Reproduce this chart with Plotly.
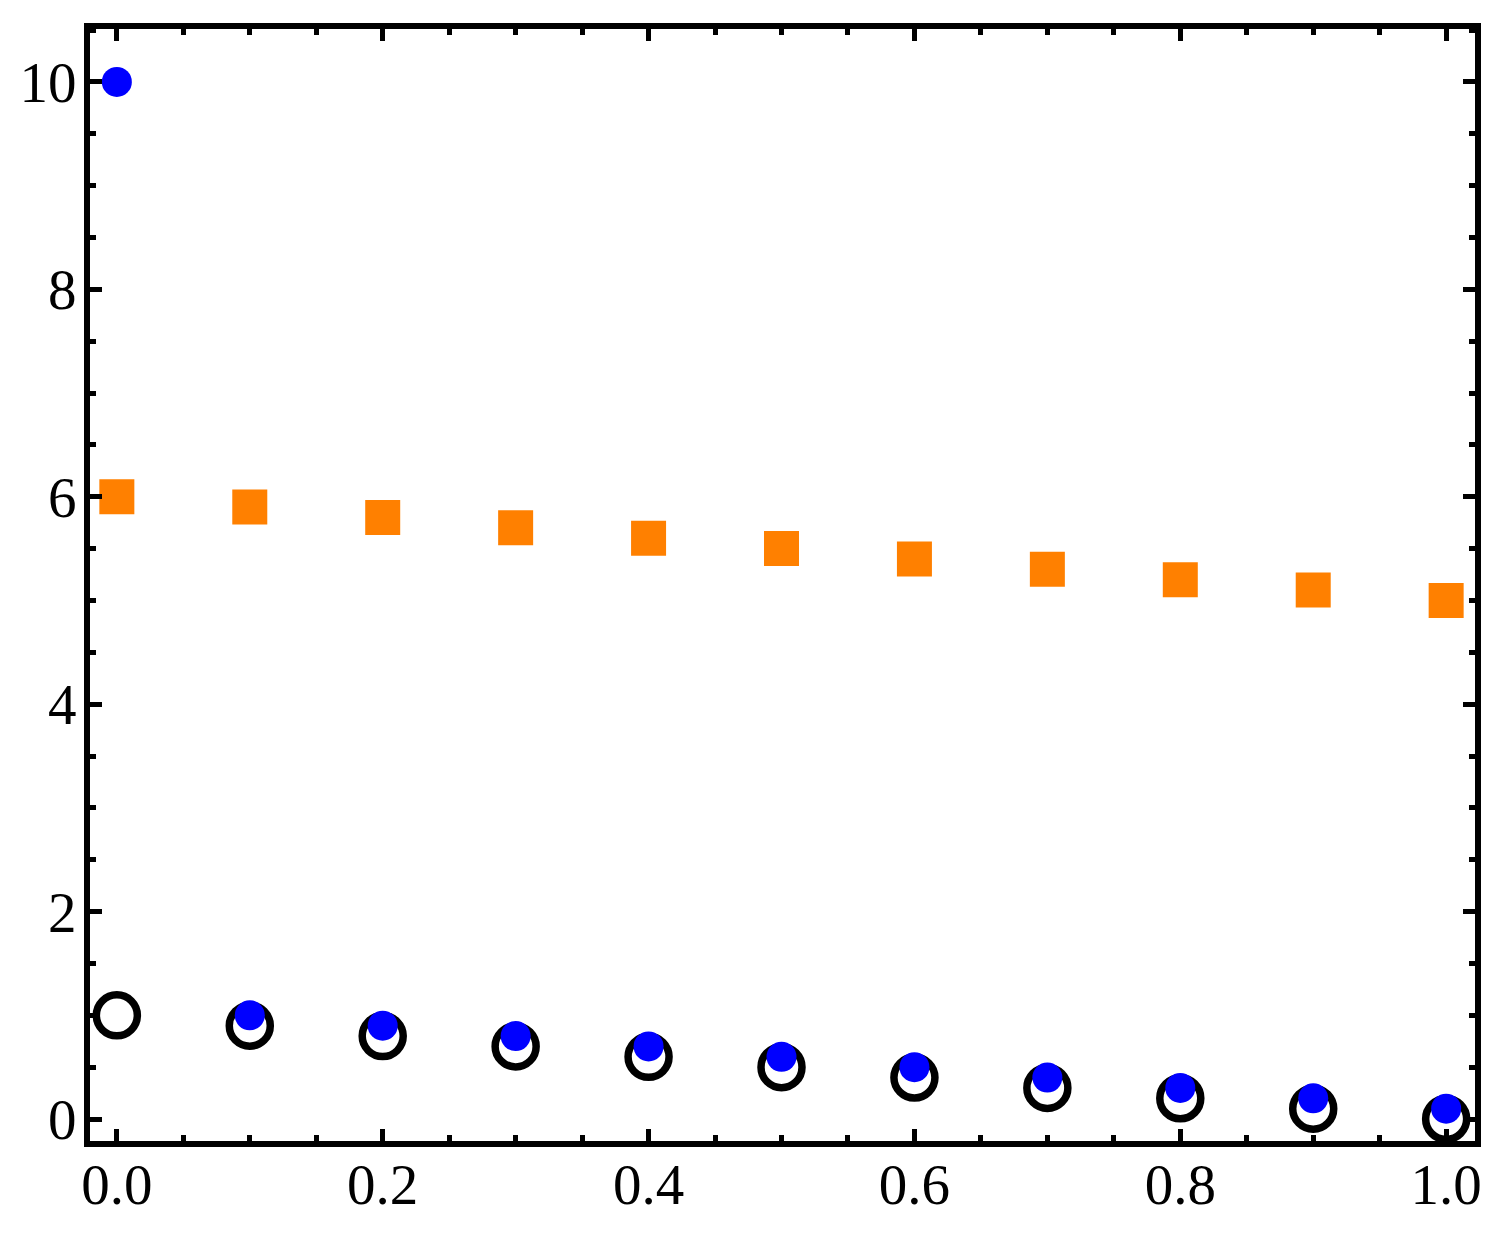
import plotly.graph_objects as go

x_vals = [0.0, 0.1, 0.2, 0.3, 0.4, 0.5, 0.6, 0.7, 0.8, 0.9, 1.0]
blue_vals = [10.0, 1.0, 0.9, 0.8, 0.7, 0.6, 0.5, 0.4, 0.3, 0.2, 0.1]
black_vals = [1.0, 0.9, 0.8, 0.7, 0.6, 0.5, 0.4, 0.3, 0.2, 0.1, 0.0]
orange_vals = [6.0, 5.9, 5.8, 5.7, 5.6, 5.5, 5.4, 5.3, 5.2, 5.1, 5.0]

x_ticks = [0.0, 0.2, 0.4, 0.6, 0.8, 1.0]
x_ticktext = ["0.0", "0.2", "0.4", "0.6", "0.8", "1.0"]
y_ticks = [0, 2, 4, 6, 8, 10]
y_ticktext = ["0", "2", "4", "6", "8", "10"]

fig = go.Figure()
fig.add_trace(go.Scatter(x=x_vals, y=orange_vals, mode="markers",
                         marker=dict(symbol="square", size=35, color="#FF8000"),
                         showlegend=False))
fig.add_trace(go.Scatter(x=x_vals, y=black_vals, mode="markers",
                         marker=dict(symbol="circle-open", size=41, color="black",
                                     line=dict(width=7.5, color="black")),
                         showlegend=False))
fig.add_trace(go.Scatter(x=x_vals, y=blue_vals, mode="markers",
                         marker=dict(symbol="circle", size=30, color="#0000FF"),
                         showlegend=False))

tickfont = dict(family="Liberation Serif", size=57, color="black")
axis_common = dict(
    showline=True, linewidth=6, linecolor="black", mirror="allticks",
    ticks="inside", ticklen=12, tickwidth=5, tickcolor="black",
    showgrid=False, zeroline=False, tickfont=tickfont,
)
fig.update_xaxes(range=[-0.0202, 1.0217], tickvals=x_ticks, ticktext=x_ticktext,
                 ticklabelstandoff=-11,
                 minor=dict(dtick=0.05, tick0=0, ticks="inside", ticklen=6,
                            tickwidth=5, tickcolor="black", showgrid=False),
                 **axis_common)
fig.update_yaxes(range=[-0.212, 10.51], tickvals=y_ticks, ticktext=y_ticktext,
                 ticklabelstandoff=-4,
                 minor=dict(dtick=0.5, tick0=0, ticks="inside", ticklen=6,
                            tickwidth=5, tickcolor="black", showgrid=False),
                 **axis_common)
fig.update_layout(
    width=1505, height=1243,
    margin=dict(l=76, r=38, t=21, b=110),
    plot_bgcolor="white", paper_bgcolor="white",
)
fig.write_html("out.html")
